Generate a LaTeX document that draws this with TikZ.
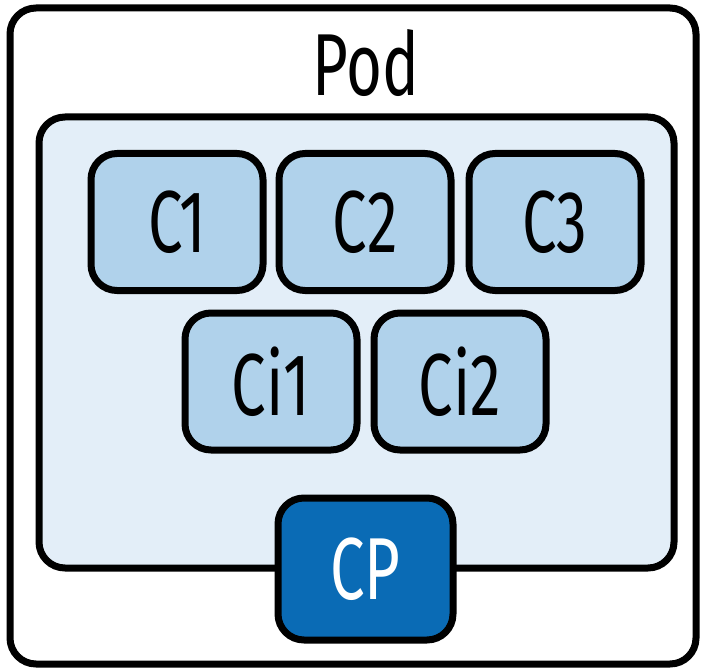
\documentclass[tikz,border=0pt]{standalone}
\usepackage{fontspec}
\setmainfont[FakeStretch=0.7]{Fira Sans}
\definecolor{boxblue}{HTML}{B0D2EB}
\definecolor{paleblue}{HTML}{E3EEF8}
\definecolor{cpblue}{HTML}{0A6BB5}
\begin{document}
\begin{tikzpicture}[x=1pt,y=-1pt,
  frame/.style={draw=black,line width=7pt,rounded corners=26pt,inner sep=0pt},
  cbox/.style={frame,fill=boxblue,minimum width=172pt,minimum height=137pt,font=\fontsize{88}{88}\selectfont},
  cpbox/.style={frame,fill=cpblue,text=white,minimum width=175pt,minimum height=142pt,font=\fontsize{88}{88}\selectfont}]
\useasboundingbox (0,0) rectangle (701,668);
\node[frame,fill=white,minimum width=686pt,minimum height=656pt] (pod) at (353,336) {};
\node[font=\fontsize{88}{88}\selectfont] (podlabel) at (366,63) {Pod};
\node[frame,fill=paleblue,minimum width=635pt,minimum height=451pt] (inner) at (356.5,342.5) {};
\node[cbox] (c1) at (177,222) {C1};
\node[cbox] (c2) at (365,222) {C2};
\node[cbox] (c3) at (555,222) {C3};
\node[cbox] (ci1) at (271,381.5) {Ci1};
\node[cbox] (ci2) at (460,381.5) {Ci2};
\node[cpbox] (cp) at (365.5,569) {CP};
\end{tikzpicture}
\end{document}
